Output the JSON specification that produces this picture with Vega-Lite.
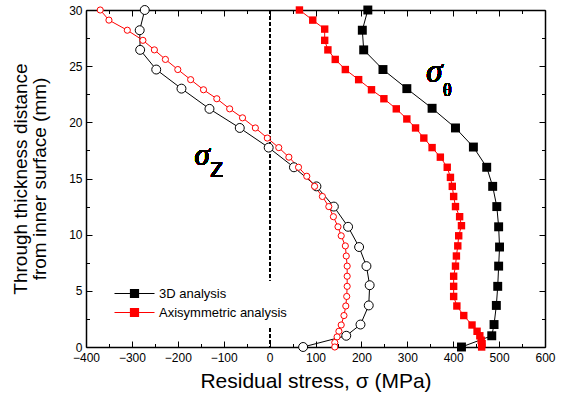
{
  "$schema": "https://vega.github.io/schema/vega-lite/v6.json",
  "width": 459,
  "height": 337,
  "autosize": "none",
  "padding": {"left": 86, "top": 10, "right": 19, "bottom": 57},
  "background": "white",
  "config": {
    "font": "Liberation Sans",
    "view": {"stroke": null},
    "axis": {
      "grid": false,
      "domainColor": "black",
      "domainWidth": 1.5,
      "tickColor": "black",
      "tickWidth": 1,
      "labelColor": "black",
      "labelFontSize": 12,
      "labelFont": "Liberation Sans",
      "titleColor": "black",
      "titleFont": "Liberation Sans",
      "titleFontWeight": "normal",
      "labelFlush": false,
      "labelOverlap": false
    }
  },
  "datasets": {
    "curves": [
      {"a": "3D analysis", "c": "t", "d": 30, "s": 214},
      {"a": "3D analysis", "c": "t", "d": 28.2, "s": 202},
      {"a": "3D analysis", "c": "t", "d": 26.45, "s": 205},
      {"a": "3D analysis", "c": "t", "d": 24.7, "s": 247},
      {"a": "3D analysis", "c": "t", "d": 23.0, "s": 299},
      {"a": "3D analysis", "c": "t", "d": 21.25, "s": 354},
      {"a": "3D analysis", "c": "t", "d": 19.5, "s": 405},
      {"a": "3D analysis", "c": "t", "d": 17.8, "s": 444},
      {"a": "3D analysis", "c": "t", "d": 16.0, "s": 473},
      {"a": "3D analysis", "c": "t", "d": 14.3, "s": 486},
      {"a": "3D analysis", "c": "t", "d": 12.5, "s": 495},
      {"a": "3D analysis", "c": "t", "d": 10.7, "s": 499},
      {"a": "3D analysis", "c": "t", "d": 8.9, "s": 501},
      {"a": "3D analysis", "c": "t", "d": 7.2, "s": 499},
      {"a": "3D analysis", "c": "t", "d": 5.4, "s": 497},
      {"a": "3D analysis", "c": "t", "d": 3.7, "s": 494},
      {"a": "3D analysis", "c": "t", "d": 2.0, "s": 489},
      {"a": "3D analysis", "c": "t", "d": 1.0, "s": 484},
      {"a": "3D analysis", "c": "t", "d": 0, "s": 418},
      {"a": "Axisymmetric analysis", "c": "t", "d": 30, "s": 65},
      {"a": "Axisymmetric analysis", "c": "t", "d": 29.1, "s": 94},
      {"a": "Axisymmetric analysis", "c": "t", "d": 28.3, "s": 120},
      {"a": "Axisymmetric analysis", "c": "t", "d": 27.3, "s": 120},
      {"a": "Axisymmetric analysis", "c": "t", "d": 26.45, "s": 127},
      {"a": "Axisymmetric analysis", "c": "t", "d": 25.6, "s": 143},
      {"a": "Axisymmetric analysis", "c": "t", "d": 24.7, "s": 165},
      {"a": "Axisymmetric analysis", "c": "t", "d": 23.8, "s": 194},
      {"a": "Axisymmetric analysis", "c": "t", "d": 22.9, "s": 222},
      {"a": "Axisymmetric analysis", "c": "t", "d": 22.1, "s": 249},
      {"a": "Axisymmetric analysis", "c": "t", "d": 21.2, "s": 276},
      {"a": "Axisymmetric analysis", "c": "t", "d": 20.3, "s": 299},
      {"a": "Axisymmetric analysis", "c": "t", "d": 19.5, "s": 318},
      {"a": "Axisymmetric analysis", "c": "t", "d": 18.6, "s": 336},
      {"a": "Axisymmetric analysis", "c": "t", "d": 17.75, "s": 354},
      {"a": "Axisymmetric analysis", "c": "t", "d": 16.9, "s": 372},
      {"a": "Axisymmetric analysis", "c": "t", "d": 16.0, "s": 387},
      {"a": "Axisymmetric analysis", "c": "t", "d": 15.1, "s": 394},
      {"a": "Axisymmetric analysis", "c": "t", "d": 14.3, "s": 398},
      {"a": "Axisymmetric analysis", "c": "t", "d": 13.4, "s": 401},
      {"a": "Axisymmetric analysis", "c": "t", "d": 12.5, "s": 405},
      {"a": "Axisymmetric analysis", "c": "t", "d": 11.6, "s": 414},
      {"a": "Axisymmetric analysis", "c": "t", "d": 10.8, "s": 418},
      {"a": "Axisymmetric analysis", "c": "t", "d": 9.9, "s": 412},
      {"a": "Axisymmetric analysis", "c": "t", "d": 9.0, "s": 410},
      {"a": "Axisymmetric analysis", "c": "t", "d": 8.1, "s": 407},
      {"a": "Axisymmetric analysis", "c": "t", "d": 7.2, "s": 405},
      {"a": "Axisymmetric analysis", "c": "t", "d": 6.3, "s": 401},
      {"a": "Axisymmetric analysis", "c": "t", "d": 5.4, "s": 401},
      {"a": "Axisymmetric analysis", "c": "t", "d": 4.5, "s": 401},
      {"a": "Axisymmetric analysis", "c": "t", "d": 3.65, "s": 408},
      {"a": "Axisymmetric analysis", "c": "t", "d": 2.8, "s": 423},
      {"a": "Axisymmetric analysis", "c": "t", "d": 1.96, "s": 441},
      {"a": "Axisymmetric analysis", "c": "t", "d": 1.4, "s": 452},
      {"a": "Axisymmetric analysis", "c": "t", "d": 1.0, "s": 458},
      {"a": "Axisymmetric analysis", "c": "t", "d": 0.6, "s": 461},
      {"a": "Axisymmetric analysis", "c": "t", "d": 0.3, "s": 463},
      {"a": "Axisymmetric analysis", "c": "t", "d": 0, "s": 462},
      {"a": "3D analysis", "c": "z", "d": 30, "s": -272},
      {"a": "3D analysis", "c": "z", "d": 28.2, "s": -283},
      {"a": "3D analysis", "c": "z", "d": 26.45, "s": -282},
      {"a": "3D analysis", "c": "z", "d": 24.7, "s": -247},
      {"a": "3D analysis", "c": "z", "d": 23.0, "s": -192},
      {"a": "3D analysis", "c": "z", "d": 21.2, "s": -131},
      {"a": "3D analysis", "c": "z", "d": 19.5, "s": -65},
      {"a": "3D analysis", "c": "z", "d": 17.75, "s": -2},
      {"a": "3D analysis", "c": "z", "d": 16.0, "s": 53},
      {"a": "3D analysis", "c": "z", "d": 14.3, "s": 102},
      {"a": "3D analysis", "c": "z", "d": 12.5, "s": 140},
      {"a": "3D analysis", "c": "z", "d": 10.7, "s": 171},
      {"a": "3D analysis", "c": "z", "d": 8.9, "s": 195},
      {"a": "3D analysis", "c": "z", "d": 7.2, "s": 211},
      {"a": "3D analysis", "c": "z", "d": 5.5, "s": 218},
      {"a": "3D analysis", "c": "z", "d": 3.7, "s": 216},
      {"a": "3D analysis", "c": "z", "d": 2.0, "s": 198},
      {"a": "3D analysis", "c": "z", "d": 1.0, "s": 167},
      {"a": "3D analysis", "c": "z", "d": 0, "s": 73},
      {"a": "Axisymmetric analysis", "c": "z", "d": 30, "s": -369},
      {"a": "Axisymmetric analysis", "c": "z", "d": 29.1, "s": -350},
      {"a": "Axisymmetric analysis", "c": "z", "d": 28.2, "s": -310},
      {"a": "Axisymmetric analysis", "c": "z", "d": 27.3, "s": -276},
      {"a": "Axisymmetric analysis", "c": "z", "d": 26.45, "s": -251},
      {"a": "Axisymmetric analysis", "c": "z", "d": 25.6, "s": -227},
      {"a": "Axisymmetric analysis", "c": "z", "d": 24.7, "s": -200},
      {"a": "Axisymmetric analysis", "c": "z", "d": 23.8, "s": -172},
      {"a": "Axisymmetric analysis", "c": "z", "d": 22.9, "s": -144},
      {"a": "Axisymmetric analysis", "c": "z", "d": 22.1, "s": -115},
      {"a": "Axisymmetric analysis", "c": "z", "d": 21.2, "s": -87},
      {"a": "Axisymmetric analysis", "c": "z", "d": 20.4, "s": -59},
      {"a": "Axisymmetric analysis", "c": "z", "d": 19.5, "s": -31},
      {"a": "Axisymmetric analysis", "c": "z", "d": 18.6, "s": -5},
      {"a": "Axisymmetric analysis", "c": "z", "d": 17.75, "s": 20},
      {"a": "Axisymmetric analysis", "c": "z", "d": 16.9, "s": 42},
      {"a": "Axisymmetric analysis", "c": "z", "d": 16.0, "s": 63},
      {"a": "Axisymmetric analysis", "c": "z", "d": 15.2, "s": 81},
      {"a": "Axisymmetric analysis", "c": "z", "d": 14.3, "s": 98},
      {"a": "Axisymmetric analysis", "c": "z", "d": 13.4, "s": 115},
      {"a": "Axisymmetric analysis", "c": "z", "d": 12.5, "s": 129},
      {"a": "Axisymmetric analysis", "c": "z", "d": 11.6, "s": 139},
      {"a": "Axisymmetric analysis", "c": "z", "d": 10.7, "s": 149},
      {"a": "Axisymmetric analysis", "c": "z", "d": 9.9, "s": 156},
      {"a": "Axisymmetric analysis", "c": "z", "d": 9.0, "s": 165},
      {"a": "Axisymmetric analysis", "c": "z", "d": 8.1, "s": 167},
      {"a": "Axisymmetric analysis", "c": "z", "d": 7.2, "s": 169},
      {"a": "Axisymmetric analysis", "c": "z", "d": 6.3, "s": 169},
      {"a": "Axisymmetric analysis", "c": "z", "d": 5.4, "s": 169},
      {"a": "Axisymmetric analysis", "c": "z", "d": 4.5, "s": 168},
      {"a": "Axisymmetric analysis", "c": "z", "d": 3.65, "s": 166},
      {"a": "Axisymmetric analysis", "c": "z", "d": 2.8, "s": 162},
      {"a": "Axisymmetric analysis", "c": "z", "d": 1.96, "s": 156},
      {"a": "Axisymmetric analysis", "c": "z", "d": 1.4, "s": 151},
      {"a": "Axisymmetric analysis", "c": "z", "d": 0.9, "s": 147},
      {"a": "Axisymmetric analysis", "c": "z", "d": 0.4, "s": 142},
      {"a": "Axisymmetric analysis", "c": "z", "d": 0, "s": 142}
    ]
  },
  "data": {"name": "curves"},
  "resolve": {"axis": {"x": "independent", "y": "independent"}},
  "layer": [
    {
      "mark": {"type": "line", "strokeWidth": 1},
      "encoding": {
        "x": {
          "field": "s", "type": "quantitative",
          "scale": {"domain": [-400, 600], "nice": false, "zero": false},
          "axis": {
            "orient": "bottom",
            "values": [-400, -350, -300, -250, -200, -150, -100, -50, 0, 50, 100, 150, 200, 250, 300, 350, 400, 450, 500, 550, 600],
            "labelExpr": "datum.value % 100 === 0 ? datum.label : ''",
            "tickSize": {"condition": {"test": "datum.value % 100 === 0", "value": -6}, "value": -3.5},
            "labelPadding": 11,
            "title": "Residual stress, σ (MPa)",
            "titleFontSize": 21,
            "titlePadding": 5
          }
        },
        "y": {
          "field": "d", "type": "quantitative",
          "scale": {"domain": [0, 30], "nice": false, "zero": false},
          "axis": {
            "orient": "left",
            "values": [0, 2.5, 5, 7.5, 10, 12.5, 15, 17.5, 20, 22.5, 25, 27.5, 30],
            "labelExpr": "datum.value % 5 === 0 ? datum.label : ''",
            "tickSize": {"condition": {"test": "datum.value % 5 === 0", "value": -6}, "value": -3.5},
            "labelPadding": 10,
            "title": ["Through thickness distance", "from inner surface (mm)"],
            "titleFontSize": 19,
            "titleLineHeight": 19,
            "titlePadding": 19
          }
        },
        "color": {
          "field": "a", "type": "nominal",
          "scale": {"domain": ["3D analysis", "Axisymmetric analysis"], "range": ["#000000", "#ff0000"]},
          "legend": {
            "orient": "none",
            "legendX": 36,
            "legendY": 271,
            "title": null,
            "symbolType": "M-4,0L4,0M-0.8,-0.8H0.8V0.8H-0.8Z",
            "symbolSize": 100,
            "symbolStrokeWidth": 1.2,
            "labelFont": "Liberation Sans",
            "labelFontSize": 13,
            "labelColor": "black",
            "labelOffset": 18,
            "fillColor": "white",
            "padding": 6,
            "rowPadding": 5,
            "encode": {"symbols": {"update": {"fill": {"scale": "color", "field": "value"}, "stroke": {"scale": "color", "field": "value"}, "opacity": {"value": 1}}}}
          }
        },
        "detail": {"field": "c"},
        "order": {"field": "d", "type": "quantitative"}
      }
    },
    {
      "mark": {"type": "rule", "strokeDash": [4, 2], "strokeWidth": 0.8, "color": "black"},
      "encoding": {"x": {"datum": 0, "type": "quantitative", "axis": null}}
    },
    {
      "transform": [{"filter": "datum.c === 'z' && datum.a === '3D analysis'"}],
      "mark": {"type": "point", "shape": "circle", "filled": true, "fill": "white", "stroke": "black", "strokeWidth": 1, "size": 80, "opacity": 1},
      "encoding": {
        "x": {"field": "s", "type": "quantitative", "axis": null},
        "y": {"field": "d", "type": "quantitative", "axis": null}
      }
    },
    {
      "transform": [{"filter": "datum.c === 'z' && datum.a === 'Axisymmetric analysis'"}],
      "mark": {"type": "point", "shape": "circle", "filled": true, "fill": "white", "stroke": "#ff0000", "strokeWidth": 1, "size": 38, "opacity": 1},
      "encoding": {
        "x": {"field": "s", "type": "quantitative", "axis": null},
        "y": {"field": "d", "type": "quantitative", "axis": null}
      }
    },
    {
      "transform": [{"filter": "datum.c === 't' && datum.a === '3D analysis'"}],
      "mark": {"type": "point", "shape": "square", "filled": true, "color": "black", "size": 80, "opacity": 1},
      "encoding": {
        "x": {
          "field": "s", "type": "quantitative",
          "axis": {
            "orient": "top",
            "values": [-400, -350, -300, -250, -200, -150, -100, -50, 0, 50, 100, 150, 200, 250, 300, 350, 400, 450, 500, 550, 600],
            "labels": false,
            "title": null,
            "tickSize": {"condition": {"test": "datum.value % 100 === 0", "value": -6}, "value": -3.5}
          }
        },
        "y": {
          "field": "d", "type": "quantitative",
          "axis": {
            "orient": "right",
            "values": [0, 2.5, 5, 7.5, 10, 12.5, 15, 17.5, 20, 22.5, 25, 27.5, 30],
            "labels": false,
            "title": null,
            "tickSize": {"condition": {"test": "datum.value % 5 === 0", "value": -6}, "value": -3.5}
          }
        }
      }
    },
    {
      "transform": [{"filter": "datum.c === 't' && datum.a === 'Axisymmetric analysis'"}],
      "mark": {"type": "point", "shape": "square", "filled": true, "color": "#ff0000", "size": 55, "opacity": 1},
      "encoding": {
        "x": {"field": "s", "type": "quantitative", "axis": null},
        "y": {"field": "d", "type": "quantitative", "axis": null}
      }
    },
    {
      "mark": {"type": "text", "text": "σ", "font": "Liberation Serif", "fontStyle": "italic", "fontSize": 31, "align": "center", "baseline": "alphabetic", "color": "black"},
      "encoding": {"x": {"datum": -147, "type": "quantitative", "axis": null}, "y": {"datum": 16.2, "type": "quantitative", "axis": null}}
    },
    {
      "mark": {"type": "text", "text": "z", "font": "Liberation Sans", "fontSize": 27, "align": "center", "baseline": "alphabetic", "color": "black"},
      "encoding": {"x": {"datum": -115, "type": "quantitative", "axis": null}, "y": {"datum": 15.1, "type": "quantitative", "axis": null}}
    },
    {
      "mark": {"type": "text", "text": "σ", "font": "Liberation Serif", "fontStyle": "italic", "fontSize": 33, "align": "center", "baseline": "alphabetic", "color": "black"},
      "encoding": {"x": {"datum": 359, "type": "quantitative", "axis": null}, "y": {"datum": 23.6, "type": "quantitative", "axis": null}}
    },
    {
      "mark": {"type": "text", "text": "θ", "font": "Liberation Serif", "fontSize": 18, "align": "center", "baseline": "alphabetic", "color": "black"},
      "encoding": {"x": {"datum": 387, "type": "quantitative", "axis": null}, "y": {"datum": 22.3, "type": "quantitative", "axis": null}}
    }
  ]
}
